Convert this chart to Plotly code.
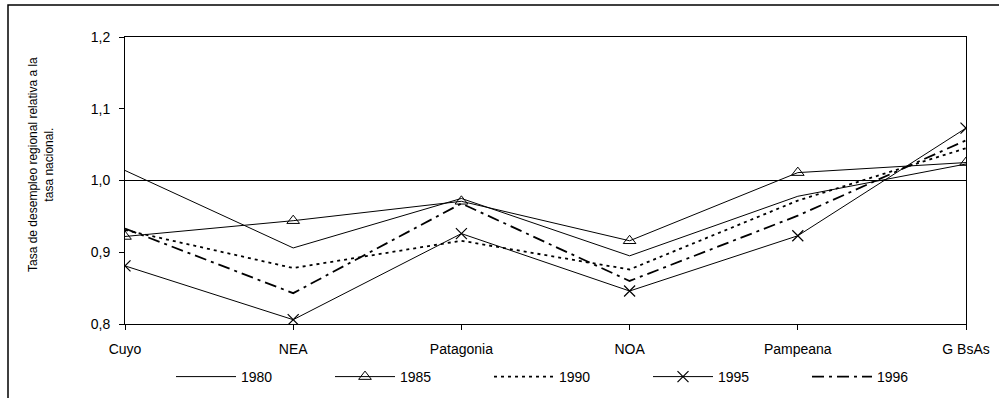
import plotly.graph_objects as go

regions = ["Cuyo", "NEA", "Patagonia", "NOA", "Pampeana", "G BsAs"]
v1980 = [1.014, 0.906, 0.975, 0.895, 0.978, 1.023]
v1985 = [0.922, 0.944, 0.971, 0.916, 1.011, 1.025]
v1990 = [0.931, 0.878, 0.916, 0.876, 0.972, 1.045]
v1995 = [0.881, 0.806, 0.926, 0.846, 0.923, 1.073]
v1996 = [0.933, 0.843, 0.968, 0.860, 0.951, 1.056]
y_ticks = [0.8, 0.9, 1.0, 1.1, 1.2]

W, H = 999, 398
L, R, T, B = 125, 33, 37, 74
pw, ph = W - L - R, H - T - B

def px2x(p):
    return (p - L) / pw

def px2y(p):
    return (H - B - p) / ph

xs = list(range(len(regions)))
fig = go.Figure()
fig.add_trace(go.Scatter(x=xs, y=v1980, name="1980", mode="lines",
                         line=dict(color="black", width=1)))
fig.add_trace(go.Scatter(x=xs, y=v1985, name="1985", mode="lines+markers",
                         line=dict(color="black", width=1),
                         marker=dict(symbol="triangle-up-open", size=11, color="black",
                                     line=dict(width=1, color="black"))))
fig.add_trace(go.Scatter(x=xs, y=v1990, name="1990", mode="lines",
                         line=dict(color="black", width=1.8, dash="3px,4px")))
fig.add_trace(go.Scatter(x=xs, y=v1995, name="1995", mode="lines+markers",
                         line=dict(color="black", width=1),
                         marker=dict(symbol="x-thin-open", size=11, color="black",
                                     line=dict(width=1.2, color="black"))))
fig.add_trace(go.Scatter(x=xs, y=v1996, name="1996", mode="lines",
                         line=dict(color="black", width=1.8, dash="12px,5px,3px,5px")))

base_font = "Liberation Sans, Arial, sans-serif"

fig.update_layout(
    width=W, height=H,
    margin=dict(l=L, r=R, t=T, b=B, autoexpand=False),
    paper_bgcolor="white", plot_bgcolor="white",
    separators=", ",
    font=dict(family=base_font, size=14, color="black"),
    showlegend=True,
    legend=dict(orientation="h", x=px2x(171), xanchor="left", y=px2y(377), yanchor="middle",
                font=dict(size=14, family=base_font),
                itemwidth=60, entrywidth=84, entrywidthmode="pixels",
                bgcolor="rgba(0,0,0,0)", itemclick=False),
    xaxis=dict(range=[0, len(regions) - 1], tickmode="array", tickvals=xs,
               ticktext=regions, showgrid=False, zeroline=False,
               showline=True, linecolor="black", linewidth=1, mirror=True,
               ticks="outside", ticklen=5, tickcolor="black", automargin=False,
               ticklabelstandoff=7, tickfont=dict(size=14)),
    yaxis=dict(range=[0.8, 1.2], tickmode="array", tickvals=y_ticks,
               tickformat=".1f", showgrid=False, zeroline=False,
               showline=True, linecolor="black", linewidth=1, mirror=True,
               ticks="outside", ticklen=5, tickcolor="black", automargin=False,
               ticklabelstandoff=6, tickfont=dict(size=14)),
    shapes=[
        dict(type="line", xref="x domain", yref="y", x0=0, x1=1, y0=1.0, y1=1.0,
             line=dict(color="black", width=1)),
        dict(type="rect", xref="paper", yref="paper",
             x0=px2x(8), x1=px2x(1012), y0=px2y(410), y1=px2y(5),
             line=dict(color="black", width=1.5), layer="below"),
    ],
    annotations=[
        dict(text="Tasa de desempleo regional relativa a la<br>tasa nacional.",
             xref="paper", yref="paper", x=px2x(41), y=px2y(165),
             xanchor="center", yanchor="middle", textangle=-90, showarrow=False,
             font=dict(family=base_font, size=12, color="black")),
    ],
)

fig.write_html("out.html")
